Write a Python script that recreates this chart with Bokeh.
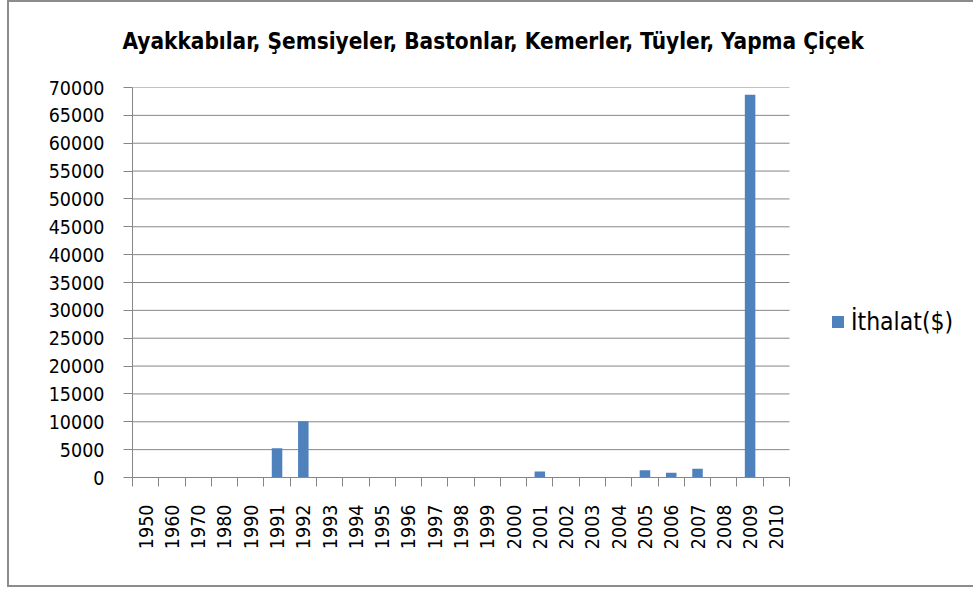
import math
from bokeh.plotting import figure
from bokeh.models import FixedTicker, Range1d, Legend, LegendItem, ColumnDataSource, Title
from bokeh.embed import file_html
from bokeh.resources import INLINE

title_text = "Ayakkabılar, Şemsiyeler, Bastonlar,  Kemerler, Tüyler, Yapma Çiçek"
series_name = "İthalat($)"
years = ["1950", "1960", "1970", "1980", "1990", "1991", "1992", "1993", "1994",
         "1995", "1996", "1997", "1998", "1999", "2000", "2001", "2002", "2003",
         "2004", "2005", "2006", "2007", "2008", "2009", "2010"]
imports = [0, 0, 0, 0, 0, 5250, 10100, 0, 0,
           0, 0, 0, 0, 0, 0, 1080, 0, 0,
           0, 1300, 840, 1560, 0, 68700, 0]
y_ticks = list(range(0, 70001, 5000))

BAR = "#4F81BD"
GRID = "#868686"
EDGE = "#8c8c8c"
FONT = "DejaVu Sans Condensed"

n = len(years)
pos = [i + 0.5 for i in range(n)]
src = ColumnDataSource(dict(x=pos, top=imports, year=years))

# plot area: categories occupy 657px; the frame extends to the right edge (841px)
x_end = n * 841 / 657

p = figure(width=973, height=590, output_backend="svg", toolbar_location=None,
           x_range=Range1d(0, x_end), y_range=Range1d(0, 70000),
           min_border_left=132, min_border_right=0, min_border_top=87,
           min_border_bottom=113)

p.outline_line_color = None
p.background_fill_color = "white"
p.border_fill_color = None
g = f"linear-gradient({EDGE},{EDGE})"
p.styles = {"background": f"{g} 7px 0px/2px 587px no-repeat, "
                          f"{g} 7px 0px/966px 2px no-repeat, "
                          f"{g} 7px 585px/966px 2px no-repeat, white"}

# horizontal gridlines limited to the category area
p.segment(x0=[0] * len(y_ticks), x1=[n] * len(y_ticks), y0=y_ticks, y1=y_ticks,
          line_color=GRID, line_width=1)

r = p.vbar(x="x", top="top", width=0.4, bottom=0, source=src,
           fill_color=BAR, line_color=None)

# y axis
p.yaxis.ticker = FixedTicker(ticks=y_ticks)
p.yaxis.axis_line_color = GRID
p.yaxis.major_tick_line_color = GRID
p.yaxis.major_tick_out = 9
p.yaxis.major_tick_in = 0
p.yaxis.minor_tick_line_color = None
p.yaxis.major_label_standoff = 19
p.yaxis.major_label_text_font = FONT
p.yaxis.major_label_text_font_size = "19.5px"
p.yaxis.major_label_text_color = "black"

# x axis: labels at category centres, ticks at category boundaries
p.xaxis.bounds = (0, n)
p.xaxis.ticker = FixedTicker(ticks=pos, minor_ticks=list(range(n + 1)))
p.xaxis.major_label_overrides = {x: y for x, y in zip(pos, years)}
p.xaxis.major_label_orientation = math.pi / 2
p.xaxis.axis_line_color = GRID
p.xaxis.major_tick_line_color = None
p.xaxis.major_tick_out = 0
p.xaxis.major_tick_in = 0
p.xaxis.minor_tick_line_color = GRID
p.xaxis.minor_tick_out = 9
p.xaxis.minor_tick_in = 0
p.xaxis.major_label_standoff = 18
p.xaxis.major_label_text_font = FONT
p.xaxis.major_label_text_font_size = "19.5px"
p.xaxis.major_label_text_color = "black"

p.xgrid.grid_line_color = None
p.ygrid.grid_line_color = None

# main (outermost) title
p.title.text = title_text
p.title.align = "left"
p.title.offset = -10
p.title.standoff = 42
p.title.text_font = FONT
p.title.text_font_style = "bold"
p.title.text_font_size = "22.4px"
p.title.text_color = "black"

# blank spacer (white on white) between the frame and the title
spacer = Title(text=".", text_color="white", text_font_size="10px", standoff=3)
p.add_layout(spacer, "above")

legend = Legend(items=[LegendItem(label=series_name, renderers=[r])],
                location=(698, 141), orientation="vertical",
                border_line_color=None, background_fill_alpha=0,
                padding=0, margin=0, glyph_width=15, glyph_height=15,
                label_standoff=6, label_text_font=FONT,
                label_text_font_size="24.5px", label_text_color="black")
p.add_layout(legend, "center")

open("out.html", "w").write(file_html(p, INLINE))
